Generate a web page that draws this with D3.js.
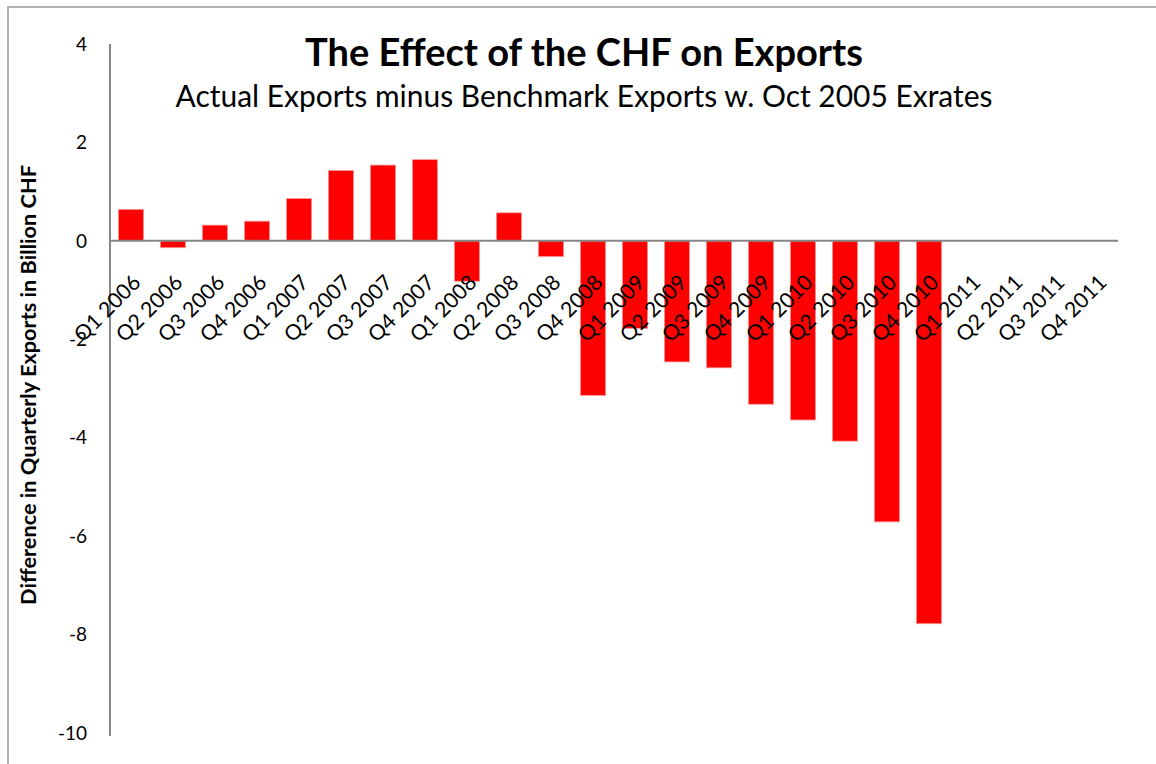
<!DOCTYPE html>
<html>
<head>
<meta charset="utf-8">
<script src="https://cdn.jsdelivr.net/npm/d3@7"></script>
<style>
  html, body { margin: 0; padding: 0; background: #fff; }
  svg { display: block; }
  text { font-family: Lato, "Open Sans", sans-serif; fill: #000; }
</style>
</head>
<body>
<script>
const categories = ["Q1 2006","Q2 2006","Q3 2006","Q4 2006","Q1 2007","Q2 2007","Q3 2007","Q4 2007",
  "Q1 2008","Q2 2008","Q3 2008","Q4 2008","Q1 2009","Q2 2009","Q3 2009","Q4 2009",
  "Q1 2010","Q2 2010","Q3 2010","Q4 2010","Q1 2011","Q2 2011","Q3 2011","Q4 2011"];
const values = [0.64, -0.14, 0.32, 0.40, 0.86, 1.43, 1.54, 1.65,
  -0.82, 0.57, -0.32, -3.14, -1.78, -2.46, -2.58, -3.32,
  -3.64, -4.07, -5.71, -7.78, null, null, null, null];
const yTicks = [4, 2, 0, -2, -4, -6, -8, -10];
const title = "The Effect of the CHF on Exports";
const subtitle = "Actual Exports minus Benchmark Exports w. Oct 2005 Exrates";
const yTitle = "Difference in Quarterly Exports in Billion CHF";

const W = 1156, H = 764;
const svg = d3.select("body").append("svg").attr("width", W).attr("height", H);

// chart frame
svg.append("rect").attr("x", 8).attr("y", 7).attr("width", W + 20).attr("height", H + 20)
  .attr("fill", "none").attr("stroke", "#9a9a9a").attr("stroke-width", 1.5);

const x = d3.scaleBand().domain(categories).range([110, 1118]).paddingInner(0.4).paddingOuter(0.2);
const y = d3.scaleLinear().domain([-10, 4]).range([733, 44]);

// bars
svg.append("g").selectAll("rect")
  .data(categories.map((c, i) => ({c, v: values[i]})).filter(d => d.v !== null))
  .join("rect")
  .attr("x", d => x(d.c))
  .attr("width", x.bandwidth())
  .attr("y", d => y(Math.max(0, d.v)))
  .attr("height", d => Math.abs(y(d.v) - y(0)))
  .attr("fill", "#ff0000")
  .attr("stroke", "#ff9a9a")
  .attr("stroke-width", 0.8);

// y axis line
svg.append("line").attr("x1", 110).attr("x2", 110).attr("y1", y(4)).attr("y2", y(-10) + 3)
  .attr("stroke", "#868686").attr("stroke-width", 2);
// zero line
svg.append("line").attr("x1", 110).attr("x2", 1118).attr("y1", y(0)).attr("y2", y(0))
  .attr("stroke", "#868686").attr("stroke-width", 2);

// y tick labels
svg.append("g").selectAll("text").data(yTicks).join("text")
  .attr("x", 87).attr("y", d => y(d)).attr("dy", "0.35em")
  .attr("text-anchor", "end").attr("font-size", 19).text(d => d);

// titles with fitted widths
function fit(sel, target) {
  const len = sel.node().getComputedTextLength();
  const fs = parseFloat(sel.attr("font-size"));
  sel.attr("font-size", fs * target / len);
  return fs * target / len;
}

// x tick labels (font fitted so a label spans ~84px)
const probe = svg.append("text").attr("font-size", 20).text(categories[2]);
const xfs = fit(probe, 84);
probe.remove();
svg.append("g").selectAll("text").data(categories).join("text")
  .attr("transform", d => `translate(${x(d) + x.bandwidth() / 2 + 11},${y(0) + 43}) rotate(-45)`)
  .attr("text-anchor", "end").attr("font-size", xfs).text(d => d);

const t = svg.append("text").attr("x", 584).attr("y", 66).attr("text-anchor", "middle")
  .attr("font-size", 33).attr("font-weight", "bold").text(title);
fit(t, 558);
const st = svg.append("text").attr("x", 584).attr("y", 107).attr("text-anchor", "middle")
  .attr("font-size", 26).text(subtitle);
fit(st, 817);
const yt = svg.append("text").attr("transform", "translate(36,385) rotate(-90)")
  .attr("text-anchor", "middle").attr("font-size", 17).attr("font-weight", "bold").text(yTitle);
fit(yt, 440);
</script>
</body>
</html>
